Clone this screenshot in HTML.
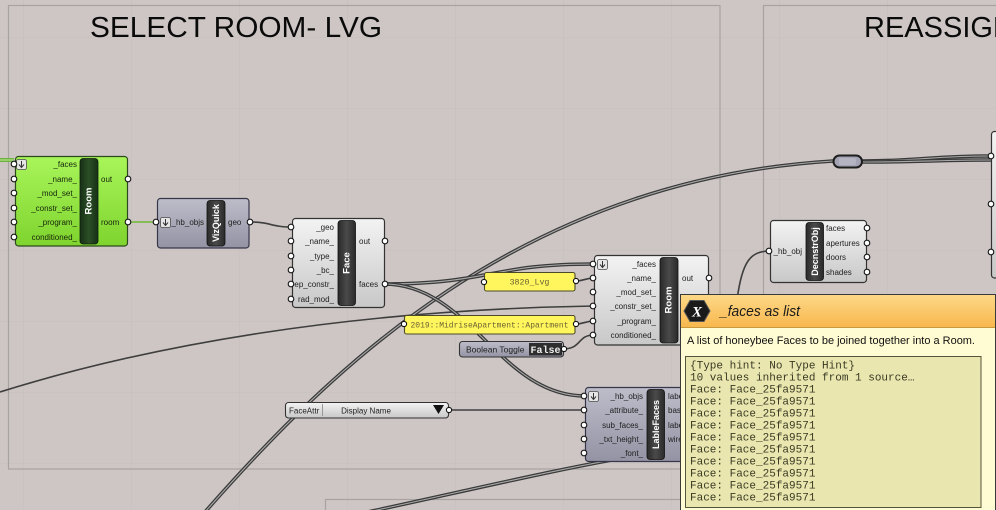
<!DOCTYPE html>
<html><head><meta charset="utf-8">
<style>
html,body{margin:0;padding:0;background:#cdc6c4;}
svg{display:block;}
.t{font-family:"Liberation Sans",sans-serif;font-size:8px;fill:#1e1e1e;}
.r{text-anchor:end;}
.lb{font-family:"Liberation Sans",sans-serif;font-weight:bold;font-size:9.5px;fill:#fff;text-anchor:middle;dominant-baseline:central;}
.title{font-family:"Liberation Sans",sans-serif;font-size:29px;fill:#0a0a0a;}
.mono{font-family:"Liberation Mono",monospace;font-size:11px;fill:#3a3a24;}
.pm{font-family:"Liberation Mono",monospace;font-size:8.3px;fill:#6b6234;}
.w1{fill:none;stroke:#3e3e3e;stroke-width:1.6;}
.wa{fill:none;stroke:#3a3a3a;stroke-width:3.6;}
.wb{fill:none;stroke:#a9a9a9;stroke-width:1.1;}
.port{fill:#fff;stroke:#111;stroke-width:1.1;}
</style></head>
<body>
<svg width="996" height="510" viewBox="0 0 996 510" xmlns="http://www.w3.org/2000/svg">
<defs>
<linearGradient id="gGreen" x1="0" y1="0" x2="0" y2="1"><stop offset="0" stop-color="#a8f55a"/><stop offset="1" stop-color="#7fd42e"/></linearGradient>
<linearGradient id="gGrey" x1="0" y1="0" x2="0" y2="1"><stop offset="0" stop-color="#f3f3f3"/><stop offset="1" stop-color="#c8c8c8"/></linearGradient>
<linearGradient id="gBlue" x1="0" y1="0" x2="0" y2="1"><stop offset="0" stop-color="#bdbdca"/><stop offset="1" stop-color="#9393a4"/></linearGradient>
<linearGradient id="gOrange" x1="0" y1="0" x2="0" y2="1"><stop offset="0" stop-color="#fdd887"/><stop offset="1" stop-color="#f8b84e"/></linearGradient>
<linearGradient id="gBar" x1="0" y1="0" x2="1" y2="0"><stop offset="0" stop-color="#2a2a2a"/><stop offset="0.5" stop-color="#4a4a4a"/><stop offset="1" stop-color="#2a2a2a"/></linearGradient>
<linearGradient id="gBarG" x1="0" y1="0" x2="1" y2="0"><stop offset="0" stop-color="#163016"/><stop offset="0.5" stop-color="#2c4f26"/><stop offset="1" stop-color="#163016"/></linearGradient>
</defs>

<!-- canvas -->
<rect x="0" y="0" width="996" height="510" fill="#cdc6c4"/>
<g stroke="#c9c2c0" stroke-width="1">
<line x1="23.5" y1="0" x2="23.5" y2="510"/><line x1="131.5" y1="0" x2="131.5" y2="510"/><line x1="239.5" y1="0" x2="239.5" y2="510"/><line x1="347.5" y1="0" x2="347.5" y2="510"/><line x1="455.5" y1="0" x2="455.5" y2="510"/><line x1="563.5" y1="0" x2="563.5" y2="510"/><line x1="671.5" y1="0" x2="671.5" y2="510"/><line x1="779.5" y1="0" x2="779.5" y2="510"/><line x1="887.5" y1="0" x2="887.5" y2="510"/>
<line x1="0" y1="37.5" x2="996" y2="37.5"/><line x1="0" y1="108.5" x2="996" y2="108.5"/><line x1="0" y1="179.5" x2="996" y2="179.5"/><line x1="0" y1="250.5" x2="996" y2="250.5"/><line x1="0" y1="321.5" x2="996" y2="321.5"/><line x1="0" y1="392.5" x2="996" y2="392.5"/><line x1="0" y1="463.5" x2="996" y2="463.5"/>
</g>

<!-- groups -->
<rect x="8.5" y="5.5" width="711.5" height="463.5" fill="none" stroke="#a7a3a1" stroke-width="1.2"/>
<rect x="763.5" y="5.5" width="260" height="520" fill="none" stroke="#a7a3a1" stroke-width="1.2"/>
<rect x="325.5" y="499.5" width="400" height="30" fill="none" stroke="#a7a3a1" stroke-width="1.2"/>

<text class="title" x="90" y="37" textLength="292" lengthAdjust="spacingAndGlyphs">SELECT ROOM- LVG</text>
<text class="title" x="864" y="37">REASSIGN</text>

<!-- wires -->
<path d="M0,160 L14,160" fill="none" stroke="#62b22c" stroke-width="3.8"/>
<path d="M0,160 L14,160" fill="none" stroke="#c4e6a4" stroke-width="1.1"/>
<path d="M127,222 L157,222" fill="none" stroke="#86bb58" stroke-width="2"/>
<path class="w1" d="M249,222 C272,222 270,227 292,227"/>

<path class="w1" d="M0,392 C150,345 350,310 594,306"/>

<path class="wa" d="M205,512 C330,370 520,180 833,161"/>
<path class="wb" d="M205,512 C330,370 520,180 833,161"/>

<path class="wa" d="M384,284 C490,284 490,264 594,264"/>
<path class="wb" d="M384,284 C490,284 490,264 594,264"/>
<path class="wa" d="M384,284 C470,284 500,396 585,396"/>
<path class="wb" d="M384,284 C470,284 500,396 585,396"/>

<path class="w1" d="M575,281 C585,281 585,278 594,278"/>
<path class="w1" d="M575,324 C585,324 585,321 594,321"/>
<path class="w1" d="M563,349 C582,349 577,335 594,335"/>
<path class="w1" d="M449,410 L585,410"/>

<path class="wa" d="M330,520 C450,495 550,470 640,455"/>
<path class="wb" d="M330,520 C450,495 550,470 640,455"/>

<path class="w1" d="M770,251 C750,251 742,262 737,300"/>

<path class="wa" d="M862,161 C920,161 930,156 991,156"/>
<path class="wb" d="M862,161 C920,161 930,156 991,156"/>
<path class="wa" d="M862,162 C920,162 940,160 992,160"/>
<path class="wb" d="M862,162 C920,162 940,160 992,160"/>

<!-- Green Room node -->
<rect x="15.5" y="156.5" width="112" height="89.5" rx="3" fill="url(#gGreen)" stroke="#2c4a1c" stroke-width="1.2"/>
<rect x="80" y="158.5" width="18" height="85.5" rx="3" fill="url(#gBarG)" stroke="#0f200f" stroke-width="0.8"/>
<text class="lb" transform="translate(89,201) rotate(-90)">Room</text>
<rect x="16.5" y="159.5" width="10" height="10" rx="2" fill="#e6e6e6" stroke="#4a4a4a" stroke-width="0.8"/>
<path d="M21.5,161 L21.5,167 M19,164.5 L21.5,167.5 L24,164.5" fill="none" stroke="#333" stroke-width="1"/>
<g class="t r" style="fill:#15240c">
<text x="77" y="167">_faces</text><text x="77" y="182">_name_</text><text x="77" y="196">_mod_set_</text><text x="77" y="211">_constr_set_</text><text x="77" y="225">_program_</text><text x="77" y="240">conditioned_</text>
</g>
<g class="t" style="fill:#15240c"><text x="101" y="182">out</text><text x="101" y="225">room</text></g>
<g class="port"><circle cx="14" cy="164" r="2.8"/><circle cx="14" cy="179" r="2.8"/><circle cx="14" cy="193" r="2.8"/><circle cx="14" cy="208" r="2.8"/><circle cx="14" cy="222" r="2.8"/><circle cx="14" cy="237" r="2.8"/><circle cx="128" cy="179" r="2.8"/><circle cx="128" cy="222" r="2.8"/></g>

<!-- VizQuick -->
<rect x="157.5" y="198.5" width="91.5" height="49.5" rx="3" fill="url(#gBlue)" stroke="#36364a" stroke-width="1.2"/>
<rect x="207" y="200.5" width="18" height="45.5" rx="3" fill="url(#gBar)" stroke="#111" stroke-width="0.8"/>
<text class="lb" transform="translate(216,223) rotate(-90)" style="font-size:9px">VizQuick</text>
<rect x="160.5" y="217.5" width="10" height="10" rx="2" fill="#e6e6e6" stroke="#4a4a4a" stroke-width="0.8"/>
<path d="M165.5,219 L165.5,225 M163,222.5 L165.5,225.5 L168,222.5" fill="none" stroke="#333" stroke-width="1"/>
<text class="t r" x="204" y="225">_hb_objs</text>
<text class="t" x="228" y="225">geo</text>
<g class="port"><circle cx="156" cy="222" r="2.8"/><circle cx="250" cy="222" r="2.8"/></g>

<!-- Face -->
<rect x="292.5" y="218.5" width="92" height="89" rx="3" fill="url(#gGrey)" stroke="#333" stroke-width="1.2"/>
<rect x="338" y="220.5" width="17.5" height="85" rx="3" fill="url(#gBar)" stroke="#111" stroke-width="0.8"/>
<text class="lb" transform="translate(347,263) rotate(-90)">Face</text>
<g class="t r"><text x="334" y="230">_geo</text><text x="334" y="244">_name_</text><text x="334" y="259">_type_</text><text x="334" y="273">_bc_</text><text x="334" y="287">ep_constr_</text><text x="334" y="302">rad_mod_</text></g>
<g class="t"><text x="359" y="244">out</text><text x="359" y="287">faces</text></g>
<g class="port"><circle cx="291" cy="227" r="2.8"/><circle cx="291" cy="241" r="2.8"/><circle cx="291" cy="256" r="2.8"/><circle cx="291" cy="270" r="2.8"/><circle cx="291" cy="284" r="2.8"/><circle cx="291" cy="299" r="2.8"/><circle cx="385" cy="241" r="2.8"/><circle cx="385" cy="284" r="2.8"/></g>

<!-- Panels -->
<rect x="484.5" y="272.5" width="90.5" height="18.5" rx="2" fill="#fff55c" stroke="#4a4a2a" stroke-width="1.1"/>
<text class="pm" x="529.5" y="284.5" text-anchor="middle">3820_Lvg</text>
<circle class="port" cx="484" cy="282" r="2.6"/><circle class="port" cx="576" cy="281" r="2.6"/>

<rect x="404.5" y="315.5" width="170.5" height="18.5" rx="2" fill="#fff55c" stroke="#4a4a2a" stroke-width="1.1"/>
<text class="pm" x="489.5" y="327.5" text-anchor="middle" textLength="158" lengthAdjust="spacingAndGlyphs">2019::MidriseApartment::Apartment</text>
<circle class="port" cx="404" cy="324" r="2.6"/><circle class="port" cx="576" cy="324" r="2.6"/>

<!-- Boolean Toggle -->
<rect x="459.5" y="341.5" width="104" height="15.5" rx="3" fill="url(#gBlue)" stroke="#333" stroke-width="1.1"/>
<text class="t" x="466" y="352.5" style="font-size:8.5px">Boolean Toggle</text>
<rect x="529" y="343" width="33" height="12.5" fill="#2e2e2e"/>
<text x="545.5" y="352.8" text-anchor="middle" style="font-family:'Liberation Mono',monospace;font-weight:bold;font-size:10px;fill:#eee">False</text>
<circle class="port" cx="564" cy="349" r="2.6"/>

<!-- Room grey -->
<rect x="594.5" y="255.5" width="114" height="89.5" rx="3" fill="url(#gGrey)" stroke="#333" stroke-width="1.2"/>
<rect x="660" y="257.5" width="18" height="85.5" rx="3" fill="url(#gBar)" stroke="#111" stroke-width="0.8"/>
<text class="lb" transform="translate(669,300) rotate(-90)">Room</text>
<rect x="597.5" y="259.5" width="10" height="10" rx="2" fill="#e6e6e6" stroke="#4a4a4a" stroke-width="0.8"/>
<path d="M602.5,261 L602.5,267 M600,264.5 L602.5,267.5 L605,264.5" fill="none" stroke="#333" stroke-width="1"/>
<g class="t r"><text x="656" y="267">_faces</text><text x="656" y="281">_name_</text><text x="656" y="295">_mod_set_</text><text x="656" y="309">_constr_set_</text><text x="656" y="324">_program_</text><text x="656" y="338">conditioned_</text></g>
<text class="t" x="682" y="281">out</text>
<g class="port"><circle cx="593" cy="264" r="2.8"/><circle cx="593" cy="278" r="2.8"/><circle cx="593" cy="292" r="2.8"/><circle cx="593" cy="306" r="2.8"/><circle cx="593" cy="321" r="2.8"/><circle cx="593" cy="335" r="2.8"/><circle cx="709" cy="278" r="2.8"/></g>

<!-- FaceAttr value list -->
<rect x="285.5" y="402.5" width="163" height="15.5" rx="3" fill="url(#gGrey)" stroke="#333" stroke-width="1.1"/>
<line x1="322.5" y1="404" x2="322.5" y2="416" stroke="#999" stroke-width="1"/>
<text class="t" x="289" y="413.5">FaceAttr</text>
<text class="t" x="366" y="413.5" text-anchor="middle">Display Name</text>
<path d="M433,405 L444,405 L438.5,414 Z" fill="#111"/>
<circle class="port" cx="449" cy="410" r="2.6"/>

<!-- LableFaces -->
<rect x="585.5" y="387.5" width="130" height="74" rx="3" fill="url(#gBlue)" stroke="#36364a" stroke-width="1.2"/>
<rect x="647" y="389.5" width="17.5" height="70" rx="3" fill="url(#gBar)" stroke="#111" stroke-width="0.8"/>
<text class="lb" transform="translate(656,424.5) rotate(-90)" style="font-size:9px">LableFaces</text>
<rect x="588.5" y="391.5" width="10" height="10" rx="2" fill="#e6e6e6" stroke="#4a4a4a" stroke-width="0.8"/>
<path d="M593.5,393 L593.5,399 M591,396.5 L593.5,399.5 L596,396.5" fill="none" stroke="#333" stroke-width="1"/>
<g class="t r"><text x="643" y="399">_hb_objs</text><text x="643" y="413">_attribute_</text><text x="643" y="428">sub_faces_</text><text x="643" y="442">_txt_height_</text><text x="643" y="456">_font_</text></g>
<g class="t"><text x="668" y="399">label</text><text x="668" y="413">base_pts</text><text x="668" y="428">label_text</text><text x="668" y="442">wire_frame</text></g>
<g class="port"><circle cx="584" cy="396" r="2.8"/><circle cx="584" cy="410" r="2.8"/><circle cx="584" cy="425" r="2.8"/><circle cx="584" cy="439" r="2.8"/><circle cx="584" cy="453" r="2.8"/></g>

<!-- DecnstrObj -->
<rect x="770.5" y="220.5" width="96" height="62" rx="3" fill="url(#gGrey)" stroke="#333" stroke-width="1.2"/>
<rect x="806" y="222.5" width="17.5" height="58" rx="3" fill="url(#gBar)" stroke="#111" stroke-width="0.8"/>
<text class="lb" transform="translate(815,251.5) rotate(-90)" style="font-size:9px">DecnstrObj</text>
<text class="t r" x="802" y="254">_hb_obj</text>
<g class="t"><text x="826" y="231">faces</text><text x="826" y="246">apertures</text><text x="826" y="260">doors</text><text x="826" y="275">shades</text></g>
<g class="port"><circle cx="769" cy="251" r="2.8"/><circle cx="867" cy="228" r="2.8"/><circle cx="867" cy="243" r="2.8"/><circle cx="867" cy="257" r="2.8"/><circle cx="867" cy="272" r="2.8"/></g>

<!-- relay pill -->
<rect x="833.5" y="155.5" width="28.5" height="12" rx="6" fill="#a3a3b3" stroke="#1e1e1e" stroke-width="2"/>
<rect x="839" y="158" width="17" height="7" rx="2" fill="#b4b4c2"/>

<!-- right node -->
<rect x="991.5" y="131.5" width="20" height="146.5" rx="3" fill="url(#gGrey)" stroke="#333" stroke-width="1.2"/>
<g class="port"><circle cx="991" cy="156" r="2.8"/><circle cx="991" cy="204" r="2.8"/><circle cx="991" cy="252" r="2.8"/></g>

<!-- Tooltip -->
<rect x="680.5" y="294.5" width="320" height="220" fill="#fffbd2" stroke="#3a3a3a" stroke-width="1"/>
<rect x="681" y="295" width="314" height="32" fill="url(#gOrange)"/>
<line x1="681" y1="327.5" x2="996" y2="327.5" stroke="#c99a3c" stroke-width="1"/>
<line x1="995.5" y1="294" x2="995.5" y2="510" stroke="#3a3a3a" stroke-width="1"/>
<polygon points="690,300.5 704,300.5 710,311 704,321.5 690,321.5 684,311" fill="#1a1a1a" stroke="#555" stroke-width="1"/>
<text x="697" y="316.5" text-anchor="middle" style="font-family:'Liberation Serif',serif;font-style:italic;font-weight:bold;font-size:15px;fill:#fff">X</text>
<text x="720" y="316" style="font-family:'Liberation Sans',sans-serif;font-style:italic;font-size:14.5px;fill:#1a1a1a" textLength="80" lengthAdjust="spacingAndGlyphs">_faces as list</text>
<text x="687" y="344" style="font-family:'Liberation Sans',sans-serif;font-size:11px;fill:#111" textLength="288" lengthAdjust="spacingAndGlyphs">A list of honeybee Faces to be joined together into a Room.</text>
<rect x="685.5" y="356.5" width="295.5" height="151" fill="#e9e6af" stroke="#55553c" stroke-width="1"/>
<g class="mono">
<text x="690" y="368.5">{Type hint: No Type Hint}</text>
<text x="690" y="380.5">10 values inherited from 1 source…</text>
<text x="690" y="392.5">Face: Face_25fa9571</text>
<text x="690" y="404.5">Face: Face_25fa9571</text>
<text x="690" y="416.5">Face: Face_25fa9571</text>
<text x="690" y="428.5">Face: Face_25fa9571</text>
<text x="690" y="440.5">Face: Face_25fa9571</text>
<text x="690" y="452.5">Face: Face_25fa9571</text>
<text x="690" y="464.5">Face: Face_25fa9571</text>
<text x="690" y="476.5">Face: Face_25fa9571</text>
<text x="690" y="488.5">Face: Face_25fa9571</text>
<text x="690" y="500.5">Face: Face_25fa9571</text>
</g>
</svg>
</body></html>
